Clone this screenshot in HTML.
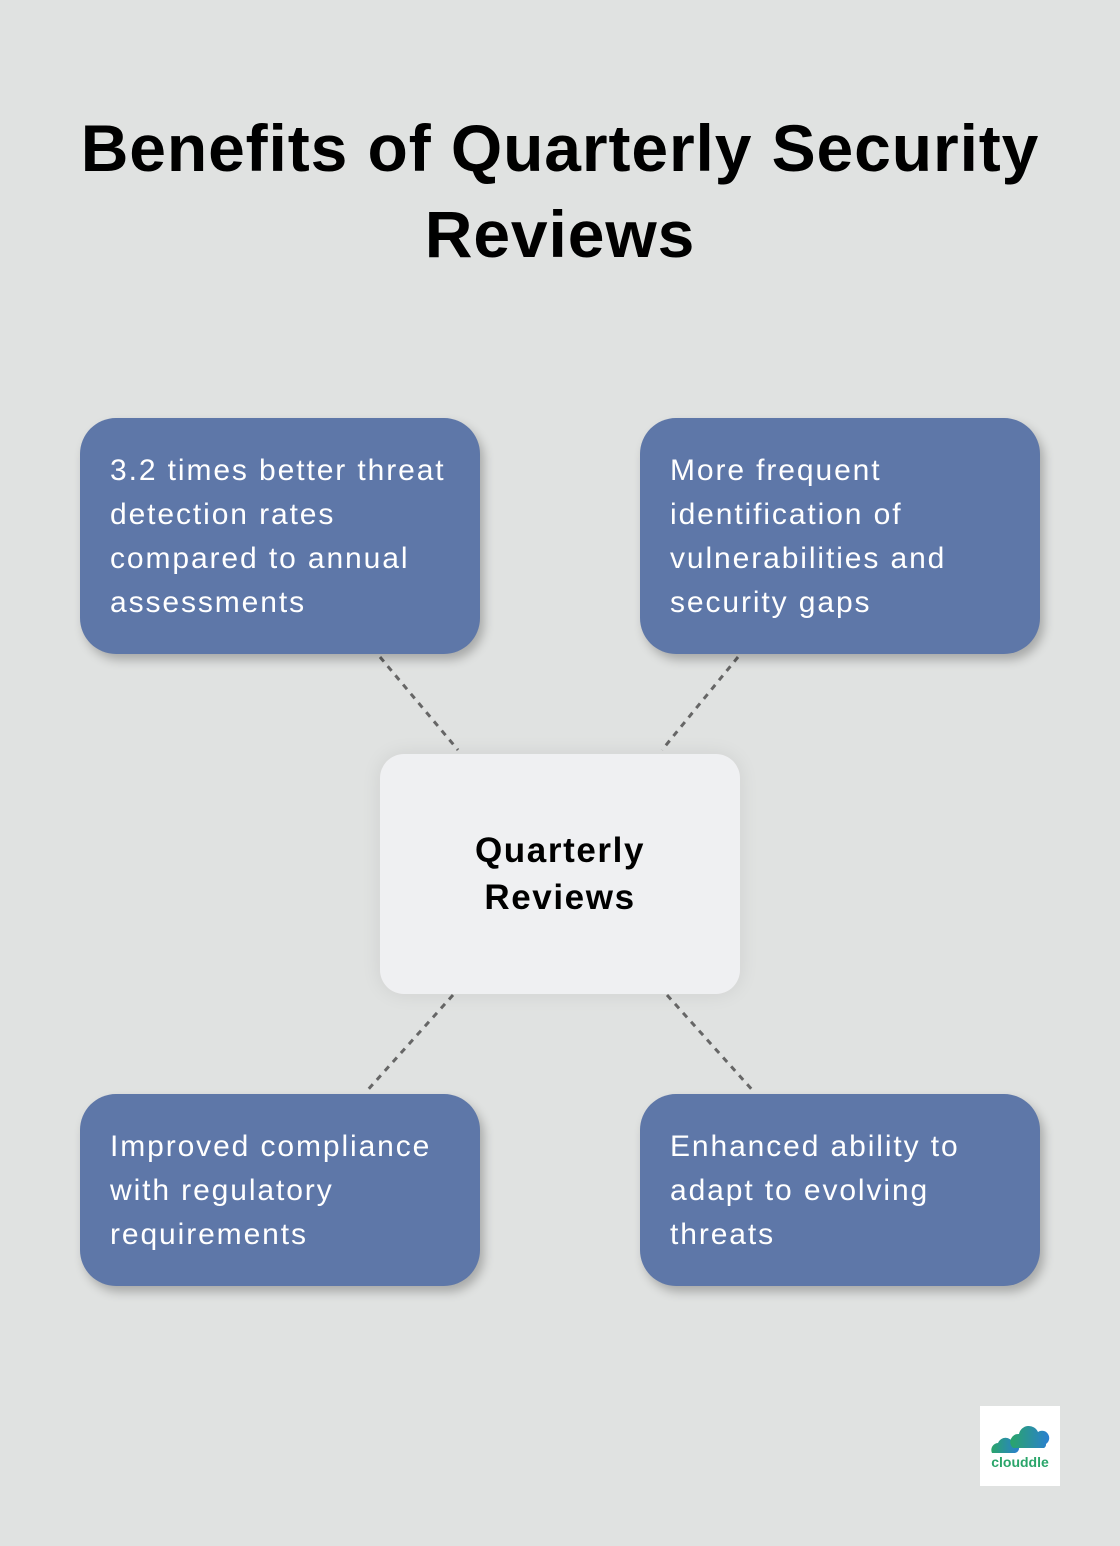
<!DOCTYPE html>
<html><head><style>
body{margin:0;width:1120px;height:1546px;background:#e0e2e1;font-family:"Liberation Sans",sans-serif;position:relative;overflow:hidden}
.t{position:absolute;left:0;width:1120px;top:105px;text-align:center;font-weight:bold;font-size:66px;line-height:86px;color:#000;letter-spacing:0.9px;white-space:nowrap}
.b{position:absolute;background:#5e77a8;border-radius:36px;color:#fff;font-size:30px;letter-spacing:1.9px;line-height:44px;padding:31px 0 0 30px;box-sizing:border-box;box-shadow:4px 6px 10px rgba(0,0,0,0.25);white-space:nowrap}
.c{position:absolute;left:380px;top:754px;width:360px;height:240px;background:#eff0f2;border-radius:24px;box-shadow:0 0 20px rgba(0,0,0,0.08);display:flex;align-items:center;justify-content:center;text-align:center;font-weight:bold;font-size:35px;letter-spacing:1.6px;line-height:47px}
</style></head><body>
<div class="t">Benefits of Quarterly Security<br>Reviews</div>
<svg style="position:absolute;left:0;top:0" width="1120" height="1546">
<g stroke="#666" stroke-width="3" stroke-dasharray="6,6" fill="none">
<line x1="380" y1="657" x2="458" y2="750"/>
<line x1="738" y1="657" x2="662" y2="750"/>
<line x1="453" y1="995" x2="365" y2="1093"/>
<line x1="667" y1="995" x2="755" y2="1093"/>
</g></svg>
<div class="b" style="left:80px;top:418px;width:400px;height:236px">3.2 times better threat<br>detection rates<br>compared to annual<br>assessments</div>
<div class="b" style="left:640px;top:418px;width:400px;height:236px">More frequent<br>identification of<br>vulnerabilities and<br>security gaps</div>
<div class="b" style="left:80px;top:1094px;width:400px;height:192px">Improved compliance<br>with regulatory<br>requirements</div>
<div class="b" style="left:640px;top:1094px;width:400px;height:192px">Enhanced ability to<br>adapt to evolving<br>threats</div>
<div class="c">Quarterly<br>Reviews</div>
<div style="position:absolute;left:980px;top:1406px;width:80px;height:80px;background:#fff">
<svg width="80" height="80">
<defs><linearGradient id="g" x1="0" x2="1"><stop offset="0" stop-color="#2aa56a"/><stop offset="1" stop-color="#2a7fd0"/></linearGradient></defs>
<path d="M12 47 a7 7 0 0 1 6-10 a8 8 0 0 1 15 0 a5 5 0 0 1 2 10z" fill="url(#g)"/>
<path d="M33 42 a8 8 0 0 1 6-14 a10 10 0 0 1 19 -2 a7 7 0 0 1 8 12 a4 4 0 0 1 -2 4z" fill="url(#g)"/>
<text x="40" y="61" text-anchor="middle" font-family="Liberation Sans" font-weight="bold" font-size="14" fill="#2aa56a">clouddle</text>
</svg></div>
</body></html>
